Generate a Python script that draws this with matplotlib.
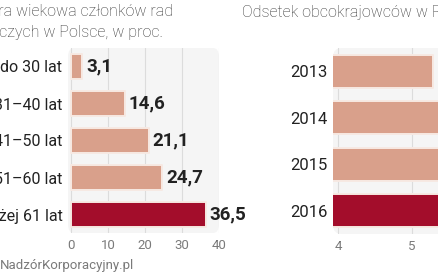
import matplotlib
matplotlib.use("Agg")
import matplotlib.pyplot as plt
from matplotlib.patches import FancyBboxPatch

# left chart: age structure of board members
age_groups = ["do 30 lat", "31–40 lat", "41–50 lat", "51–60 lat", "powyżej 61 lat"]
age_share = [3.1, 14.6, 21.1, 24.7, 36.5]
age_labels = ["3,1", "14,6", "21,1", "24,7", "36,5"]

# right chart: share of foreigners (cropped in the reference, estimated)
years = ["2013", "2014", "2015", "2016"]
foreign_share = [5.28, 5.8, 6.0, 6.5]

SALMON = "#d9a08b"
DARK = "#a30d2b"
EDGE = "#f7e9e3"
PANEL = "#f5f5f5"
TXT = "#222222"
GRAY = "#7a7a7a"

plt.rcParams["font.family"] = ["Roboto", "DejaVu Sans"]

fig = plt.figure(figsize=(4.39, 2.74), dpi=100)
W, H = 439.0, 274.0


def px_axes(x0, y0, x1, y1):
    return fig.add_axes([x0 / W, 1 - y1 / H, (x1 - x0) / W, (y1 - y0) / H])


def panel(ax):
    ax.patch.set_visible(False)
    bg = FancyBboxPatch((0, 0), 1, 1, boxstyle="round,pad=0,rounding_size=0.04",
                        transform=ax.transAxes, facecolor=PANEL, edgecolor="none",
                        zorder=0, clip_on=False, mutation_aspect=1.2)
    ax.add_patch(bg)
    for s in ax.spines.values():
        s.set_visible(False)


# ---- left
ax1 = px_axes(68, 48, 219, 233)
panel(ax1)
cols = [SALMON] * (len(age_share) - 1) + [DARK]
bars = ax1.barh(range(len(age_share)), age_share, height=0.7, color=cols,
                edgecolor=EDGE, linewidth=1.4, zorder=3)
for b in bars:
    b.set_joinstyle("round")
for i, (v, lab) in enumerate(zip(age_share, age_labels)):
    ax1.text(v + 1.0, i, lab, va="center", ha="left", fontsize=13.5,
             fontweight="bold", color=TXT, clip_on=False, zorder=4)
ax1.set_xlim(-0.8, 40)
ax1.set_ylim(4.5, -0.5)
ax1.set_xticks([0, 10, 20, 30, 40])
ax1.set_yticks(range(len(age_groups)))
ax1.set_yticklabels(age_groups, fontsize=11.5, color=TXT)
ax1.tick_params(axis="y", length=0, pad=4)
ax1.tick_params(axis="x", length=0, pad=4, labelsize=9.5, labelcolor=GRAY)
ax1.grid(axis="x", color="#dcdcdc", linewidth=0.8, zorder=1)
ax1.set_axisbelow(True)

# ---- right
ax2 = px_axes(333, 48, 560, 234)
panel(ax2)
cols2 = [SALMON] * (len(foreign_share) - 1) + [DARK]
bars2 = ax2.barh(range(len(foreign_share)), foreign_share, height=0.7,
                 color=cols2, edgecolor=EDGE, linewidth=1.4, zorder=3)
for b in bars2:
    b.set_joinstyle("round")
ax2.set_xlim(3.93, 7.0)
ax2.set_ylim(3.5, -0.5)
ax2.set_xticks([4, 5, 6, 7])
ax2.set_yticks(range(len(years)))
ax2.set_yticklabels(years, fontsize=12, color=TXT)
ax2.tick_params(axis="y", length=0, pad=4)
ax2.tick_params(axis="x", length=0, pad=4, labelsize=9.5, labelcolor=GRAY)
ax2.grid(axis="x", color="#dcdcdc", linewidth=0.8, zorder=1)
ax2.set_axisbelow(True)

# ---- titles and footer
fig.text(173 / W, 1 - 12 / H, "Struktura wiekowa członków rad", ha="right",
         va="center", fontsize=11.5, color="#333333", fontweight="light")
fig.text(163 / W, 1 - 32 / H, "nadzorczych w Polsce, w proc.", ha="right",
         va="center", fontsize=11.5, color="#333333", fontweight="light")
fig.text(242 / W, 1 - 13 / H, "Odsetek obcokrajowców w RN, w proc.",
         ha="left", va="center", fontsize=11.5, color="#333333", fontweight="light")
fig.text(0, 1 - 265 / H, "NadzórKorporacyjny.pl", ha="left", va="center",
         fontsize=9.5, color=GRAY)

fig.savefig("out.png", dpi=100)
